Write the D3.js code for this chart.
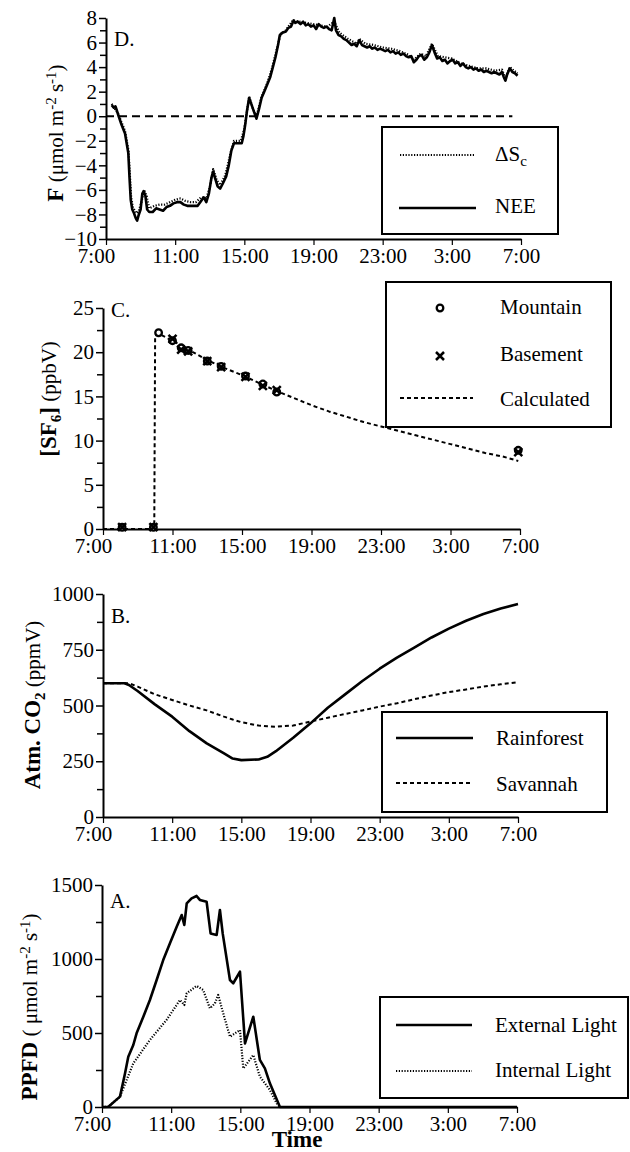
<!DOCTYPE html>
<html>
<head>
<meta charset="utf-8">
<script src="https://cdn.jsdelivr.net/npm/d3@7"></script>
<style>
  body { margin: 0; background: #fff; }
  svg { display: block; }
</style>
</head>
<body>
<svg id="chart" width="630" height="1152"></svg>
<script>
const FONT = '"Liberation Serif", "Times New Roman", serif';

// x axis: hours after 7:00 on day one
const timeTicks = [0, 4, 8, 12, 16, 20, 24];
const timeLabels = ["7:00", "11:00", "15:00", "19:00", "23:00", "3:00", "7:00"];

// panel D: net flux (umol m-2 s-1)
const fluxMajor = [-10, -8, -6, -4, -2, 0, 2, 4, 6, 8];
const fluxMinor = [-9, -7, -5, -3, -1, 1, 3, 5, 7];
const neeTime = [0.33, 0.45, 0.55, 0.71, 0.9, 1.1, 1.29, 1.36, 1.43, 1.52, 1.62, 1.72, 1.8, 1.9, 2.0, 2.1, 2.18, 2.28, 2.38, 2.5,
  2.7, 2.9, 3.1, 3.3, 3.5, 3.7, 3.9, 4.1, 4.3, 4.5, 4.7, 4.9, 5.1, 5.3, 5.5, 5.65, 5.8, 5.95, 6.1, 6.2,
  6.3, 6.45, 6.6, 6.75, 6.95, 7.1, 7.25, 7.4, 7.6, 7.85, 7.95, 8.05, 8.15, 8.28, 8.4, 8.55, 8.7, 8.85, 9.0, 9.15,
  9.3, 9.5, 9.65, 9.8, 9.95, 10.05, 10.2, 10.4, 10.55, 10.7, 10.85, 10.95, 11.1, 11.25, 11.4, 11.55, 11.7, 11.85, 12.0, 12.15,
  12.3, 12.45, 12.6, 12.75, 12.9, 13.05, 13.2, 13.3, 13.45, 13.6, 13.75, 13.9, 14.05, 14.2, 14.35, 14.5, 14.65, 14.8, 14.95, 15.1,
  15.25, 15.4, 15.55, 15.7, 15.85, 16.0, 16.15, 16.3, 16.45, 16.6, 16.75, 16.9, 17.05, 17.2, 17.35, 17.5, 17.65, 17.8, 17.95, 18.1,
  18.25, 18.4, 18.55, 18.7, 18.85, 19.0, 19.15, 19.3, 19.45, 19.6, 19.75, 19.9, 20.05, 20.2, 20.35, 20.5, 20.65, 20.8, 20.95, 21.1,
  21.25, 21.4, 21.55, 21.7, 21.85, 22.0, 22.15, 22.3, 22.45, 22.6, 22.75, 22.9, 23.0, 23.1, 23.2, 23.35, 23.5, 23.65, 23.8];
const neeFlux = [0.9, 0.7, 0.8, 0.1, -0.7, -1.4, -3.0, -5.0, -6.8, -7.6, -7.9, -8.3, -8.5, -8.0, -7.6, -6.3, -6.1, -6.5, -7.6, -7.8,
  -7.8, -7.5, -7.6, -7.7, -7.4, -7.3, -7.1, -7.0, -7.0, -7.2, -7.3, -7.3, -7.3, -7.3, -6.9, -6.6, -7.0, -6.3, -5.0, -4.5,
  -5.0, -5.7, -5.9, -5.5, -4.9, -4.0, -2.8, -2.2, -2.2, -2.2, -1.6, -0.7, 0.4, 1.5, 1.0, 0.4, -0.2, 0.6, 1.5, 2.0,
  2.5, 3.2, 4.0, 4.8, 5.8, 6.6, 6.8, 6.9, 7.2, 7.3, 7.8, 7.6, 7.7, 7.5, 7.7, 7.4, 7.5, 7.3, 7.4, 7.1,
  7.5, 7.3, 7.2, 7.3, 7.1, 7.0, 8.0, 7.0, 6.6, 6.5, 6.3, 6.2, 6.0, 5.8, 5.9, 5.7, 6.2, 5.8, 5.7, 5.6,
  5.7, 5.5, 5.6, 5.4, 5.5, 5.4, 5.3, 5.4, 5.2, 5.3, 5.1, 5.2, 5.0, 5.1, 4.9, 4.8, 4.9, 4.4, 4.6, 4.9,
  5.0, 4.6, 4.8, 5.2, 5.8, 5.2, 4.7, 4.8, 4.5, 4.6, 4.3, 4.5, 4.6, 4.3, 4.4, 4.1, 4.3, 4.0, 3.9, 4.0,
  3.8, 3.9, 3.7, 3.8, 3.6, 3.7, 3.6, 3.5, 3.6, 3.5, 3.4, 3.6, 3.2, 2.9, 3.4, 3.9, 3.6, 3.5, 3.3];
const dscTime = [0.33, 0.7, 1.1, 1.3, 1.45, 1.55, 1.75, 1.9, 2.05, 2.2, 2.35, 2.5, 2.8, 3.1, 3.4, 3.7, 4.0, 4.3, 4.6, 4.9,
  5.2, 5.5, 5.8, 6.0, 6.2, 6.4, 6.6, 6.9, 7.2, 7.4, 7.8, 8.0, 8.28, 8.5, 8.7, 9.0, 9.3, 9.6, 9.9, 10.1,
  10.4, 10.8, 11.2, 11.6, 12.0, 12.4, 12.8, 13.2, 13.5, 14.0, 14.5, 14.65, 15.0, 15.5, 16.0, 16.5, 17.0, 17.5, 17.8, 18.2,
  18.5, 18.85, 19.2, 19.6, 20.0, 20.5, 21.0, 21.5, 22.0, 22.5, 22.9, 23.1, 23.35, 23.6, 23.8];
const dscFlux = [1.0, 0.2, -1.2, -2.8, -6.5, -7.4, -7.9, -7.7, -7.0, -6.0, -6.5, -7.5, -7.3, -7.2, -7.2, -7.0, -6.8, -6.7, -6.9, -7.0,
  -7.0, -6.6, -6.7, -5.8, -4.3, -5.2, -5.6, -4.8, -3.0, -2.0, -2.0, -1.0, 1.6, 0.6, 0.0, 1.6, 2.6, 3.9, 5.6, 6.7,
  7.0, 7.8, 7.7, 7.6, 7.5, 7.4, 7.3, 7.7, 6.8, 6.3, 5.9, 6.3, 5.9, 5.8, 5.6, 5.5, 5.3, 5.0, 4.6, 5.1,
  4.9, 5.9, 4.9, 4.8, 4.7, 4.3, 4.1, 3.9, 3.9, 3.7, 3.8, 3.1, 4.0, 3.7, 3.5];
const zeroLineEnd = 23.5;

// panel C: SF6 tracer (ppbV)
const sf6Major = [0, 5, 10, 15, 20, 25];
const sf6Minor = [2.5, 7.5, 12.5, 17.5, 22.5];
const mountainTime = [1.1, 2.9, 3.2, 4.0, 4.5, 4.9, 6.0, 6.8, 8.2, 9.2, 10.0, 23.9];
const mountainSF6 = [0.2, 0.2, 22.2, 21.3, 20.5, 20.2, 19.0, 18.4, 17.3, 16.4, 15.5, 8.9];
const basementTime = [1.1, 2.9, 4.0, 4.5, 4.9, 6.0, 6.8, 8.2, 9.2, 10.0, 23.9];
const basementSF6 = [0.2, 0.2, 21.5, 20.3, 20.1, 19.0, 18.3, 17.2, 16.2, 15.7, 8.7];
const calcTime = [0, 2.95, 3.0, 3.2, 4.0, 5.0, 6.0, 7.0, 8.0, 9.0, 10.0, 11.0, 12.0, 13.0, 14.0, 15.0, 16.0, 17.0, 18.0, 19.0, 20.0, 21.0, 22.0, 23.0, 23.9];
const calcSF6 = [0, 0, 21.9, 22.1, 21.3, 20.2, 19.1, 18.2, 17.4, 16.5, 15.6, 14.8, 14.0, 13.3, 12.7, 12.1, 11.6, 11.1, 10.6, 10.1, 9.6, 9.1, 8.6, 8.2, 7.7];

// panel B: atmospheric CO2 (ppmV)
const co2Major = [0, 250, 500, 750, 1000];
const co2Minor = [125, 375, 625, 875];
const co2Time = [0, 1, 1.25, 1.5, 2, 3, 4, 5, 6, 7, 7.5, 8, 9, 9.5, 10, 11, 12, 13, 14, 15, 16, 17, 18, 19, 20, 21, 22, 23, 24];
const rainforestCO2 = [600, 600, 600, 592, 565, 505, 450, 385, 330, 285, 262, 255, 258, 270, 295, 355, 420, 490, 550, 610, 665, 715, 760, 805, 845, 880, 910, 935, 955];
const savannahCO2 = [600, 600, 600, 600, 585, 550, 525, 500, 478, 450, 437, 425, 410, 407, 405, 410, 428, 445, 462, 478, 495, 510, 528, 545, 560, 572, 585, 595, 605];

// panel A: PPFD (umol m-2 s-1)
const ppfdMajor = [0, 500, 1000, 1500];
const ppfdMinor = [250, 750, 1250];
const externalTime = [0, 0.37, 1.04, 1.33, 1.52, 1.81, 2.0, 2.39, 2.77, 3.16, 3.54, 3.93, 4.32, 4.61, 4.76, 4.9, 5.18, 5.47, 5.66, 6.05,
  6.28, 6.63, 6.82, 6.98, 7.4, 7.59, 7.98, 8.27, 8.75, 9.13, 9.42, 9.71, 10.29, 24];
const externalPPFD = [0, 2, 70, 227, 340, 419, 498, 610, 723, 858, 993, 1106, 1218, 1297, 1230, 1376, 1410, 1426, 1399, 1387,
  1173, 1162, 1331, 1173, 858, 836, 914, 430, 610, 318, 261, 160, 0, 0];
const internalTime = [0, 0.37, 1.04, 1.81, 2.77, 3.73, 4.51, 4.76, 4.9, 5.47, 5.85, 6.24, 6.53, 6.72, 7.01, 7.4, 7.98, 8.17, 8.75, 9.13,
  9.71, 10.1, 10.3, 24];
const internalPPFD = [0, 2, 70, 295, 453, 588, 723, 689, 768, 818, 791, 667, 700, 757, 633, 475, 520, 261, 351, 205,
  115, 25, 0, 0];

const svg = d3.select("#chart");

function setupPanel(p) {
  const x = d3.scaleLinear().domain([0, 24]).range([p.left, p.right]);
  const y = d3.scaleLinear().domain(p.domain).range([p.bottom, p.top]);

  const xa = svg.append("g")
    .attr("transform", `translate(0,${p.bottom})`)
    .call(d3.axisBottom(x).tickValues(timeTicks).tickFormat((d, i) => timeLabels[i])
      .tickSizeInner(6).tickSizeOuter(0));
  xa.attr("font-family", FONT).attr("font-size", 21);
  xa.select(".domain").attr("stroke-width", 2);
  xa.selectAll(".tick line").attr("stroke-width", 1.2);
  xa.selectAll(".tick text").filter((d, i) => i === 0).attr("dx", -10);

  const ya = svg.append("g")
    .attr("transform", `translate(${p.left},0)`)
    .call(d3.axisLeft(y).tickValues(p.major).tickFormat(d3.format("d"))
      .tickSizeInner(7).tickSizeOuter(0).tickPadding(2));
  ya.attr("font-family", FONT).attr("font-size", 21);
  ya.select(".domain").attr("stroke-width", 2);
  ya.selectAll(".tick line").attr("stroke-width", 1.5);

  const ym = svg.append("g")
    .attr("transform", `translate(${p.left},0)`)
    .call(d3.axisLeft(y).tickValues(p.minor).tickSizeInner(6).tickSizeOuter(0).tickFormat(""));
  ym.select(".domain").remove();
  ym.selectAll(".tick line").attr("stroke-width", 1.5);

  svg.append("text")
    .attr("x", p.left + 8).attr("y", p.letterY)
    .attr("font-family", FONT).attr("font-size", 21)
    .text(p.letter);

  return { x, y };
}

function drawLine(sc, times, values, width, dash) {
  const line = d3.line().x(d => sc.x(d[0])).y(d => sc.y(d[1]));
  svg.append("path")
    .datum(d3.zip(times, values))
    .attr("d", line)
    .attr("fill", "none")
    .attr("stroke", "#000")
    .attr("stroke-width", width)
    .attr("stroke-linejoin", "round")
    .attr("stroke-dasharray", dash || null);
}

// rotated label built from pieces; sup/sub pieces shift and come back
function richText(sel, parts) {
  let shift = 0;
  parts.forEach(p => {
    const target = p.sup ? -7 : p.sub ? 5 : 0;
    sel.append("tspan")
      .attr("dy", target - shift)
      .attr("font-weight", p.bold ? "bold" : null)
      .attr("font-size", p.sup || p.sub ? 15 : p.bold ? 23 : 21)
      .text(p.t);
    shift = target;
  });
}

function yLabel(x, y, parts) {
  const t = svg.append("text")
    .attr("transform", `translate(${x},${y}) rotate(-90)`)
    .attr("text-anchor", "middle")
    .attr("font-family", FONT);
  richText(t, parts);
}

function legendBox(x0, y0, x1, y1) {
  svg.append("rect")
    .attr("x", x0).attr("y", y0).attr("width", x1 - x0).attr("height", y1 - y0)
    .attr("fill", "#fff").attr("stroke", "#000").attr("stroke-width", 2);
}

function legendLine(x0, x1, y, width, dash) {
  svg.append("line")
    .attr("x1", x0).attr("x2", x1).attr("y1", y).attr("y2", y)
    .attr("stroke", "#000").attr("stroke-width", width)
    .attr("stroke-dasharray", dash || null);
}

function legendText(x, y, parts) {
  const t = svg.append("text").attr("x", x).attr("y", y).attr("font-family", FONT).attr("font-size", 21);
  richText(t, parts);
}

function drawCircle(cx, cy) {
  svg.append("circle").attr("cx", cx).attr("cy", cy).attr("r", 3.3)
    .attr("fill", "#fff").attr("stroke", "#000").attr("stroke-width", 2.3);
}

function drawCross(cx, cy) {
  const s = 4;
  svg.append("path")
    .attr("d", `M${cx - s},${cy - s}L${cx + s},${cy + s}M${cx - s},${cy + s}L${cx + s},${cy - s}`)
    .attr("stroke", "#000").attr("stroke-width", 2.5).attr("fill", "none");
}

const DOTTED = "1.2,1.6";
const DASHED = "4,3";

// ---- panel D
const scD = setupPanel({ left: 106, right: 521, top: 18, bottom: 239, domain: [-10, 8],
  major: fluxMajor, minor: fluxMinor, letter: "D.", letterY: 46 });
drawLine(scD, [0, zeroLineEnd], [0, 0], 2, "8,5");
drawLine(scD, dscTime, dscFlux, 2.2, DOTTED);
drawLine(scD, neeTime, neeFlux, 2.6);
yLabel(63, 133, [{ t: "F", bold: true }, { t: " (μmol m" }, { t: "-2", sup: true }, { t: " s" }, { t: "-1", sup: true }, { t: ")" }]);
legendBox(382, 127, 558, 234);
legendLine(400, 475, 155, 2, DOTTED);
legendLine(399, 476, 208, 2.5);
legendText(495, 161, [{ t: "ΔS" }, { t: "c", sub: true }]);
legendText(495, 213, [{ t: "NEE" }]);

// ---- panel C
const scC = setupPanel({ left: 103, right: 520, top: 308, bottom: 529, domain: [0, 25],
  major: sf6Major, minor: sf6Minor, letter: "C.", letterY: 317 });
drawLine(scC, calcTime, calcSF6, 2, DASHED);
d3.zip(mountainTime, mountainSF6).forEach(d => drawCircle(scC.x(d[0]), scC.y(d[1])));
d3.zip(basementTime, basementSF6).forEach(d => drawCross(scC.x(d[0]), scC.y(d[1])));
yLabel(56, 399, [{ t: "[SF", bold: true }, { t: "6", sub: true, bold: true }, { t: "]", bold: true }, { t: " (ppbV)" }]);
legendBox(386, 282, 611, 427);
drawCircle(440, 308);
drawCross(440, 356);
legendLine(400, 473, 398, 2, DASHED);
legendText(500, 314, [{ t: "Mountain" }]);
legendText(500, 361, [{ t: "Basement" }]);
legendText(500, 406, [{ t: "Calculated" }]);

// ---- panel B
const scB = setupPanel({ left: 103, right: 518, top: 594, bottom: 817, domain: [0, 1000],
  major: co2Major, minor: co2Minor, letter: "B.", letterY: 623 });
drawLine(scB, co2Time, savannahCO2, 2, DASHED);
drawLine(scB, co2Time, rainforestCO2, 2.6);
yLabel(40, 705, [{ t: "Atm. CO", bold: true }, { t: "2", sub: true, bold: true }, { t: " (ppmV)" }]);
legendBox(382, 712, 607, 812);
legendLine(396, 473, 738, 2.5);
legendLine(396, 473, 783, 2, DASHED);
legendText(496, 745, [{ t: "Rainforest" }]);
legendText(496, 791, [{ t: "Savannah" }]);

// ---- panel A
const scA = setupPanel({ left: 102, right: 517, top: 885, bottom: 1107, domain: [0, 1500],
  major: ppfdMajor, minor: ppfdMinor, letter: "A.", letterY: 908 });
drawLine(scA, internalTime, internalPPFD, 2.2, DOTTED);
drawLine(scA, externalTime, externalPPFD, 2.6);
yLabel(37, 1007, [{ t: "PPFD", bold: true }, { t: " ( μmol m" }, { t: "-2", sup: true }, { t: " s" }, { t: "-1", sup: true }, { t: ")" }]);
legendBox(380, 997, 628, 1098);
legendLine(396, 472, 1025, 2.5);
legendLine(396, 472, 1071, 2, DOTTED);
legendText(495, 1032, [{ t: "External Light" }]);
legendText(495, 1077, [{ t: "Internal Light" }]);

svg.append("text")
  .attr("x", 297).attr("y", 1147)
  .attr("text-anchor", "middle")
  .attr("font-family", FONT).attr("font-size", 23).attr("font-weight", "bold")
  .text("Time");
</script>
</body>
</html>
